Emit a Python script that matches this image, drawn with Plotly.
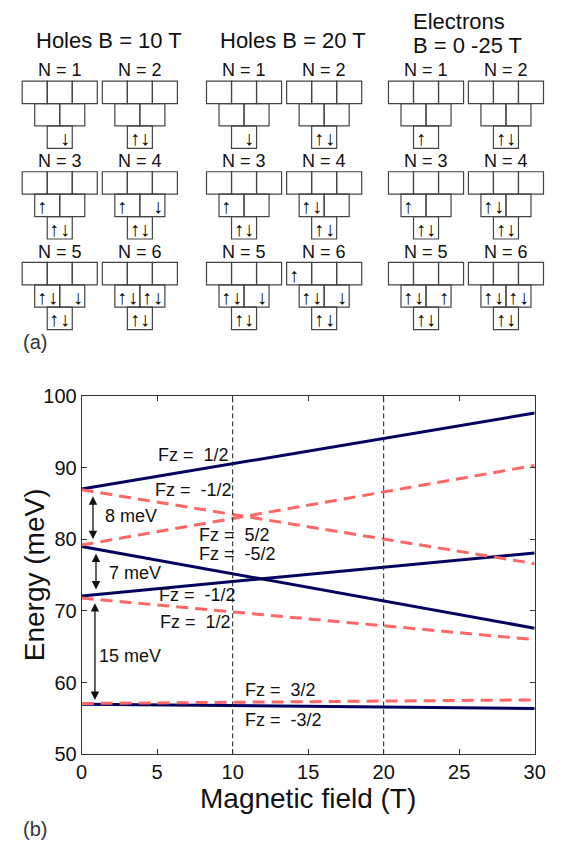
import plotly.graph_objects as go

W, H = 567, 856

# ---------------- panel (b) data ----------------
field = [0, 30]
blue_start = [87.0, 79.0, 72.1, 57.0]
blue_end = [97.6, 67.6, 78.1, 56.4]
red_start = [86.9, 79.2, 71.8, 57.1]
red_end = [76.6, 90.3, 66.0, 57.6]
marker_fields = [10, 20]

fz_labels = ["Fz =\u00a0\u00a01/2", "Fz =\u00a0\u00a0-1/2", "Fz =\u00a0\u00a05/2", "Fz =\u00a0\u00a0-5/2",
             "Fz =\u00a0\u00a0-1/2", "Fz =\u00a0\u00a01/2", "Fz =\u00a0\u00a03/2", "Fz =\u00a0\u00a0-3/2"]
fz_x = [7.42, 7.39, 7.64, 7.64, 7.67, 7.56, 10.7, 10.7]
fz_y = [91.8, 86.9, 80.6, 77.9, 72.2, 68.5, 59.0, 54.8]
fz_anchor = ["center", "center", "left", "left", "center", "center", "left", "left"]

gap_labels = ["8 meV", "7 meV", "15 meV"]
gap_top = [86.2, 78.2, 71.3]
gap_bottom = [80.0, 73.0, 57.6]
gap_arrow_x = [0.75, 0.95, 0.88]
gap_text_x = [3.28, 3.56, 3.18]
gap_text_y = [83.2, 75.3, 63.7]

# ---------------- panel (a) data ----------------
group_titles = ["Holes B = 10 T", "Holes B = 20 T", "Electrons", "B = 0 -25 T"]
n_labels = ["N = 1", "N = 2", "N = 3", "N = 4", "N = 5", "N = 6"]
holes10 = [
    {"b0": " ↓"},
    {"b0": "↑↓"},
    {"m0": "↑ ", "b0": "↑↓"},
    {"m0": "↑ ", "m1": " ↓", "b0": "↑↓"},
    {"m0": "↑↓", "m1": " ↓", "b0": "↑↓"},
    {"m0": "↑↓", "m1": "↑↓", "b0": "↑↓"},
]
holes20 = [
    {"b0": " ↓"},
    {"b0": "↑↓"},
    {"m0": "↑ ", "b0": "↑↓"},
    {"m0": "↑↓", "b0": "↑↓"},
    {"m0": "↑↓", "m1": " ↓", "b0": "↑↓"},
    {"t0": "↑ ", "m0": "↑↓", "m1": " ↓", "b0": "↑↓"},
]
electrons = [
    {"b0": "↑ "},
    {"b0": "↑↓"},
    {"m0": "↑ ", "b0": "↑↓"},
    {"m0": "↑↓", "b0": "↑↓"},
    {"m0": "↑↓", "m1": " ↑", "b0": "↑↓"},
    {"m0": "↑↓", "m1": "↑↓", "b0": "↑↓"},
]
occupations = [holes10, holes20, electrons]

# layout constants (pixels)
col_left = [16.7, 99.3, 206.7, 289.3, 394.3, 476.7]
row_top = [72, 165, 258]
bw, bh = 25.8, 23.0
title_pos = [(106, 30), (296, 30), (467, 11), (476, 35)]

FONT = "Liberation Sans, Arial, sans-serif"
NAVY = "#03035f"
SALMON = "#ff6666"


def px(x):
    return x / W


def py(y):
    return 1 - y / H


fig = go.Figure()

for s, e in zip(blue_start, blue_end):
    fig.add_trace(go.Scatter(x=field, y=[s, e], mode="lines",
                             line=dict(color=NAVY, width=3), showlegend=False, hoverinfo="skip"))
for s, e in zip(red_start, red_end):
    fig.add_trace(go.Scatter(x=field, y=[s, e], mode="lines",
                             line=dict(color=SALMON, width=3, dash="12px,7px"), showlegend=False, hoverinfo="skip"))
for b in marker_fields:
    fig.add_trace(go.Scatter(x=[b, b], y=[50, 100], mode="lines",
                             line=dict(color="#222", width=1, dash="5px,3px"), showlegend=False, hoverinfo="skip"))

annotations = []
for t, x, y, a in zip(fz_labels, fz_x, fz_y, fz_anchor):
    annotations.append(dict(x=x, y=y, xref="x", yref="y", text=t, showarrow=False,
                            xanchor=a, yanchor="middle", font=dict(size=18, color="#111", family=FONT)))
for lab, top, bot, ax_, tx, ty in zip(gap_labels, gap_top, gap_bottom, gap_arrow_x, gap_text_x, gap_text_y):
    annotations.append(dict(x=ax_, y=bot, ax=ax_, ay=top, xref="x", yref="y", axref="x", ayref="y",
                            text="", showarrow=True, arrowside="end+start", arrowhead=2,
                            arrowsize=1.3, arrowwidth=1.3, arrowcolor="#111"))
    annotations.append(dict(x=tx, y=ty, xref="x", yref="y", text=lab, showarrow=False,
                            xanchor="center", yanchor="middle", font=dict(size=18, color="#111", family=FONT)))

# axis titles as annotations for exact placement
annotations.append(dict(x=px(311), y=py(808), xref="paper", yref="paper", text="Magnetic field (T)",
                        showarrow=False, xanchor="center", yanchor="middle",
                        font=dict(size=28, color="#111", family=FONT)))
annotations.append(dict(x=px(29), y=py(579), xref="paper", yref="paper", text="Energy (meV)",
                        showarrow=False, xanchor="center", yanchor="middle", textangle=-90,
                        font=dict(size=28, color="#111", family=FONT)))

# panel (a)
shapes = []
box_offsets = {"t0": (0, 0), "t1": (bw, 0), "t2": (2 * bw, 0),
               "m0": (bw / 2, bh), "m1": (1.5 * bw, bh), "b0": (bw, 2 * bh)}
for title, (tx, ty) in zip(group_titles, title_pos):
    annotations.append(dict(x=px(tx), y=py(ty), xref="paper", yref="paper", text=title,
                            showarrow=False, xanchor="center", yanchor="middle",
                            font=dict(size=22, color="#111", family=FONT)))
for g, occ in enumerate(occupations):
    for k in range(6):
        L = col_left[g * 2 + k % 2]
        T = row_top[k // 2]
        annotations.append(dict(x=px(L + 1.5 * bw), y=py(T - 11), xref="paper", yref="paper",
                                text=n_labels[k], showarrow=False, xanchor="center", yanchor="middle",
                                font=dict(size=18, color="#111", family=FONT)))
        for key, (dx, dy) in box_offsets.items():
            x0, y0 = L + dx, T + dy
            shapes.append(dict(type="rect", xref="paper", yref="paper",
                               x0=px(x0), x1=px(x0 + bw), y0=py(y0), y1=py(y0 + bh),
                               line=dict(color="#444", width=1.2), fillcolor="rgba(0,0,0,0)"))
            if key in occ[k]:
                txt = occ[k][key]
                cx = x0 + bw / 2
                if txt.strip() == txt:           # pair: up left, down right
                    glyphs = [(txt[0], cx - 5.5), (txt[1], cx + 5.5)]
                elif txt.startswith(" "):        # single in right slot
                    glyphs = [(txt.strip(), cx + 5.5)]
                else:                            # single in left slot
                    glyphs = [(txt.strip(), cx - 5.5)]
                for ch, gx in glyphs:
                    annotations.append(dict(x=px(gx), y=py(y0 + bh / 2 + 1), xref="paper", yref="paper",
                                            text=ch, showarrow=False, xanchor="center",
                                            yanchor="middle",
                                            font=dict(size=20, color="#000", family=FONT)))

annotations.append(dict(x=px(15), y=py(340), xref="paper", yref="paper", text="(a)", showarrow=False,
                        xanchor="left", yanchor="middle", font=dict(size=20, color="#333", family=FONT)))
annotations.append(dict(x=px(15), y=py(840), xref="paper", yref="paper", text="(b)", showarrow=False,
                        xanchor="left", yanchor="middle", font=dict(size=20, color="#333", family=FONT)))

axis_common = dict(showgrid=False, zeroline=False, showline=True, linecolor="#333", linewidth=1,
                   mirror="ticks", ticks="inside", ticklen=5, tickcolor="#333",
                   tickfont=dict(size=20, color="#111", family=FONT))

fig.update_layout(
    width=W, height=H, autosize=False,
    margin=dict(l=0, r=0, t=0, b=0),
    paper_bgcolor="white", plot_bgcolor="white",
    font=dict(family=FONT),
    xaxis=dict(domain=[px(78), px(545)], range=[0, 30], dtick=5, tick0=0, **axis_common),
    yaxis=dict(domain=[py(763), py(395)], range=[50, 100], dtick=10, tick0=50, **axis_common),
    annotations=annotations,
    shapes=shapes,
)

fig.write_html("out.html")
